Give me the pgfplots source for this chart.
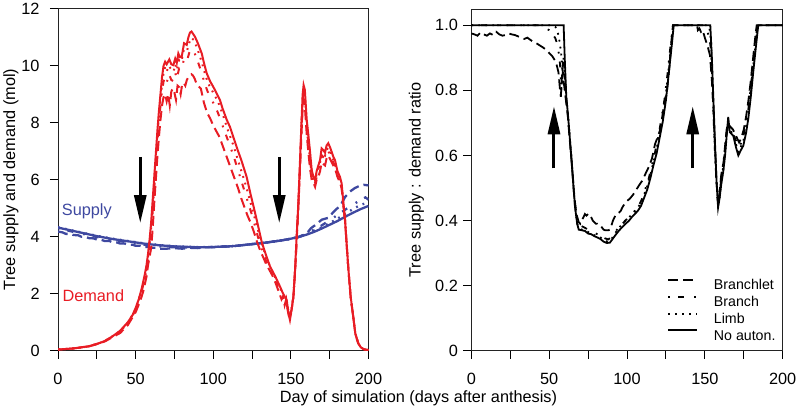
\documentclass[border=0pt]{standalone}
\usepackage{pgfplots}
\pgfplotsset{compat=1.18}
\usetikzlibrary{arrows.meta}
\usepackage{fontspec}
\setmainfont{Liberation Sans}
\newcommand\fs{\fontsize{16.3}{19}\selectfont}
\newcommand\fl{\fontsize{14.2}{17}\selectfont}
\definecolor{dred}{RGB}{232,28,36}
\definecolor{sblue}{RGB}{62,72,160}
\definecolor{frm}{RGB}{35,35,35}
\tikzset{
  pdash/.style={dash pattern=on 10pt off 5pt},
  pdashdot/.style={dash pattern=on 1.8pt off 8pt on 6pt off 10pt},
  pdot/.style={dash pattern=on 1.8pt off 5.2pt},
}
\pgfplotsset{
  common/.style={
    scale only axis, anchor=south west,
    xmin=0, xmax=200,
    xtick={0,50,100,150,200}, minor xtick={25,75,125,175},
    xticklabels={0,50,100,150,200},
    tick align=outside, xtick pos=left, ytick pos=left,
    major tick length=8pt, minor tick length=8pt,
    every tick/.style={line width=1pt, black},
    every minor tick/.style={line width=1pt, black},
    axis line style={line width=1pt, frm},
    ticklabel style={font=\fs},
    xticklabel style={yshift=-10.6pt},
  }
}
\begin{document}
\begin{tikzpicture}
\useasboundingbox (0pt,0pt) rectangle (797pt,408pt);
% ---------------- left panel ----------------
\begin{axis}[common, at={(58pt,57.3pt)}, width=310.5pt, height=342pt,
  ymin=0, ymax=12, ytick={0,2,4,6,8,10,12}, yticklabels={0,2,4,6,8,10,12},
  yticklabel style={xshift=-6.9pt}]
% supply
\addplot[sblue, line width=2.3pt, pdash] coordinates {
(0,4.18) (3,4.15) (5,4.1) (8,4.1) (10,4.06) (13,4.05) (15,4.0) (18,3.99) (20,3.95) (23,3.94) (25,3.9) (28,3.89) (30,3.85) (33,3.85) (35,3.81) (38,3.8) (40,3.76) (43,3.76) (45,3.72) (48,3.72) (50,3.68) (53,3.68) (55,3.64) (58,3.64) (60,3.61) (63,3.61) (65,3.58) (70,3.58) (75,3.6) (80,3.58) (85,3.61) (90,3.6) (95,3.63) (100,3.63) (105,3.65) (110,3.66) (115,3.68) (120,3.71) (125,3.74) (130,3.77) (135,3.8) (140,3.84) (145,3.88) (150,3.93) (155,3.99) (160,4.1) (163,4.3) (166,4.42) (170,4.6) (174,4.66) (178,4.9) (182,5.1) (185,5.4) (188,5.58) (191,5.7) (194,5.78) (197,5.82) (200,5.8)};
\addplot[sblue, line width=2.3pt, pdashdot] coordinates {
(0,4.3) (5,4.23) (10,4.17) (15,4.11) (20,4.05) (25,3.99) (30,3.94) (35,3.89) (40,3.85) (45,3.8) (50,3.76) (55,3.72) (60,3.69) (65,3.66) (70,3.64) (75,3.63) (80,3.62) (85,3.62) (90,3.62) (95,3.63) (100,3.64) (105,3.65) (110,3.66) (115,3.68) (120,3.71) (125,3.74) (130,3.77) (135,3.8) (140,3.84) (145,3.88) (150,3.93) (155,3.99) (160,4.1) (165,4.25) (170,4.4) (175,4.58) (180,4.76) (185,4.95) (190,5.12) (195,5.3) (198,5.38) (200,5.3)};
\addplot[sblue, line width=2.3pt, pdot] coordinates {
(0,4.33) (5,4.27) (10,4.21) (15,4.15) (20,4.09) (25,4.03) (30,3.98) (35,3.93) (40,3.89) (45,3.85) (50,3.81) (55,3.77) (60,3.74) (65,3.71) (70,3.69) (75,3.67) (80,3.66) (85,3.65) (90,3.64) (95,3.64) (100,3.64) (105,3.65) (110,3.66) (115,3.68) (120,3.71) (125,3.74) (130,3.77) (135,3.8) (140,3.84) (145,3.88) (150,3.93) (155,3.99) (160,4.08) (165,4.2) (170,4.33) (175,4.48) (180,4.63) (185,4.8) (190,4.97) (195,5.12) (200,5.2)};
\addplot[sblue, line width=2.3pt] coordinates {
(0,4.32) (5,4.26) (10,4.2) (15,4.14) (20,4.08) (25,4.02) (30,3.97) (35,3.92) (40,3.88) (45,3.84) (50,3.8) (55,3.76) (60,3.73) (65,3.7) (70,3.68) (75,3.66) (80,3.65) (85,3.64) (90,3.63) (95,3.63) (100,3.64) (105,3.65) (110,3.66) (115,3.68) (120,3.71) (125,3.74) (130,3.77) (135,3.8) (140,3.84) (145,3.88) (150,3.93) (155,3.99) (160,4.07) (165,4.17) (170,4.29) (175,4.42) (180,4.55) (185,4.7) (190,4.84) (195,4.97) (200,5.08)};
% demand
\addplot[dred, line width=2pt, pdash] coordinates {
(0,0.04) (10,0.08) (20,0.15) (30,0.32) (40,0.62) (45,0.9) (50,1.35) (53,1.75) (55,2.1) (57,2.6) (58,3.0) (59,3.3) (60,3.6) (61,4.3) (62,5.2) (63,6.0) (64,6.8) (65,7.5) (66,8.1) (67,8.6) (68,8.9) (69,9.0) (70,8.75) (71,9.0) (72,8.6) (73,9.1) (74,9.2) (75,9.05) (76,8.8) (77,9.3) (78,9.25) (79,9.0) (80,9.35) (81,9.4) (82,9.3) (83,9.5) (84,9.6) (85,9.65) (86,9.7) (87,9.65) (88,9.55) (89,9.4) (90,9.3) (92,9.2) (94,8.7) (96,8.35) (98,8.15) (100,7.9) (102,7.7) (104,7.5) (106,7.2) (108,6.9) (110,6.6) (112,6.3) (114,6.0) (116,5.7) (118,5.35) (120,5.05) (122,4.75) (124,4.5) (126,4.2) (128,3.85) (130,3.55) (132,3.3) (134,3.05) (136,2.85) (138,2.65) (140,2.4) (142,2.1) (144,1.8) (145,1.9) (146,1.6) (147,1.8) (148,1.4) (149,1.15) (150.5,1.45) (151.6,1.85) (152.7,2.75) (153.7,3.85) (154.8,5.0) (155.9,6.4) (156.9,7.7) (157.6,8.5) (158.2,8.8) (159,8.6) (160.2,7.6) (161.2,7.0) (162.3,6.4) (163.4,6.0) (164.5,5.9) (165.6,5.75) (166.6,6.0) (167.7,6.1) (168.8,6.3) (169.8,6.6) (170.9,6.55) (172,6.5) (173,6.75) (174.1,6.85) (175.5,6.7) (177.3,6.5) (178.4,6.4) (180,6.1) (181.6,5.9) (182.7,5.7) (183.8,5.1) (184.9,4.55) (186,3.65) (187.1,2.8) (188.5,1.88) (190.2,1.17) (191.5,0.6) (193.4,0.26) (195,0.12) (197,0.05) (200,0.02)};
\addplot[dred, line width=2pt, pdashdot] coordinates {
(0,0.04) (10,0.08) (20,0.15) (30,0.33) (40,0.66) (45,0.95) (50,1.42) (54,2.1) (56,2.55) (57,2.85) (58,3.2) (59,3.6) (60,4.1) (61,4.9) (62,5.7) (63,6.5) (64,7.3) (65,8.0) (66,8.6) (67,9.1) (68,9.45) (69,9.6) (70,9.4) (71.5,9.7) (73,9.5) (74.5,9.45) (75.5,9.75) (76.5,9.55) (78,9.9) (79.5,9.85) (81,10.2) (83,10.15) (84.5,10.45) (86,10.6) (87.5,10.5) (89,10.3) (91,10.0) (93,9.65) (95,9.3) (97,9.0) (99,8.8) (101,8.6) (103,8.35) (105,8.05) (107,7.75) (109,7.45) (111,7.15) (113,6.85) (115,6.5) (117,6.15) (119,5.8) (121,5.45) (123,5.1) (125,4.75) (127,4.35) (129,3.95) (131,3.6) (134,3.15) (137,2.8) (140,2.45) (143,2.1) (145,1.95) (146.5,1.7) (148,1.5) (149,1.2) (150.5,1.5) (151.6,1.88) (152.7,2.8) (153.7,3.9) (154.8,5.05) (155.9,6.5) (156.9,7.9) (157.6,8.8) (158.2,9.1) (159,8.9) (160.2,7.8) (161.2,7.3) (162.3,6.7) (163.4,6.2) (164.5,5.95) (165.6,5.8) (166.6,6.1) (167.7,6.3) (168.8,6.5) (169.8,6.85) (170.9,6.8) (172,6.75) (173,6.95) (174.1,7.0) (175.5,6.85) (177.3,6.6) (178.4,6.5) (180,6.15) (181.6,5.95) (182.7,5.75) (183.8,5.1) (184.9,4.55) (186,3.65) (187.1,2.8) (188.5,1.88) (190.2,1.17) (191.5,0.6) (193.4,0.26) (195,0.12) (197,0.05) (200,0.02)};
\addplot[dred, line width=2pt, pdot] coordinates {
(0,0.04) (10,0.08) (20,0.15) (30,0.33) (40,0.68) (45,0.97) (50,1.45) (54,2.15) (56,2.6) (57,2.9) (58,3.3) (59,3.75) (60,4.3) (61,5.1) (62,5.9) (63,6.7) (64,7.5) (65,8.2) (66,8.8) (67,9.35) (68,9.75) (69,9.95) (70,9.8) (71.5,10.0) (73,9.85) (74.5,9.8) (75.5,10.05) (76.5,9.85) (78,10.2) (79.5,10.15) (81,10.55) (83,10.5) (84.5,10.8) (86,10.98) (87.5,10.9) (89,10.7) (91,10.4) (93,10.05) (95,9.65) (97,9.35) (99,9.15) (101,8.95) (103,8.75) (105,8.45) (107,8.15) (109,7.8) (111,7.5) (113,7.2) (115,6.85) (117,6.5) (119,6.15) (121,5.8) (123,5.4) (125,5.0) (127,4.6) (129,4.2) (131,3.8) (134,3.3) (137,2.9) (140,2.55) (143,2.2) (145,2.0) (147,1.75) (148.3,1.4) (149.3,1.12) (150.5,1.5) (151.6,1.9) (152.7,2.8) (153.7,3.95) (154.8,5.1) (155.9,6.6) (156.9,8.0) (157.6,8.9) (158.2,9.2) (159,9.0) (160.2,8.0) (161.2,7.5) (162.3,6.9) (163.4,6.3) (164.5,6.05) (165.6,5.9) (166.6,6.2) (167.7,6.4) (168.8,6.6) (169.8,6.95) (170.9,6.9) (172,6.85) (173,7.05) (174.1,7.12) (175.5,6.95) (177.3,6.7) (178.4,6.55) (180,6.2) (181.6,6.0) (182.7,5.8) (183.8,5.15) (184.9,4.57) (186,3.68) (187.1,2.82) (188.5,1.89) (190.2,1.18) (191.5,0.6) (193.4,0.26) (195,0.12) (197,0.05) (200,0.02)};
\addplot[dred, line width=2pt] coordinates {
(0,0.04) (10,0.08) (20,0.16) (25,0.23) (30,0.34) (35,0.5) (40,0.7) (45,1.0) (48,1.25) (50,1.5) (52,1.8) (54,2.2) (56,2.7) (57,3.0) (58,3.4) (59,3.9) (60,4.5) (61,5.3) (62,6.1) (63,6.9) (64,7.7) (65,8.4) (66,9.0) (67,9.6) (68,10.0) (69,10.14) (70,10.05) (71.7,10.22) (73,10.05) (74.3,10.02) (75.5,10.25) (76.5,10.1) (77.5,10.43) (78.5,10.3) (79.7,10.32) (81.2,10.79) (82.9,10.73) (84,11.0) (85,11.16) (86,11.2) (87,11.12) (88.2,11.02) (90,10.8) (92.6,10.43) (94,10.1) (95.8,9.73) (98,9.45) (100,9.26) (102,9.05) (104.3,8.8) (106,8.5) (108.7,8.1) (110.8,7.85) (112.9,7.5) (116,7.0) (118,6.7) (121.5,6.1) (124,5.5) (126,5.05) (128,4.59) (131.2,3.82) (134,3.35) (136.6,2.95) (140,2.6) (143,2.25) (145,2.0) (147.3,1.78) (148.5,1.3) (149.4,1.08) (150.5,1.45) (151.6,1.89) (152.7,2.83) (153.7,4.0) (154.8,5.17) (155.9,6.69) (156.9,8.1) (157.6,9.0) (158.2,9.32) (159,9.15) (160.2,8.1) (161.2,7.6) (162.3,7.0) (163.4,6.34) (164.5,6.1) (165.6,5.98) (166.6,6.3) (167.7,6.5) (168.8,6.69) (169.8,7.1) (170.9,7.04) (172,6.95) (173,7.2) (174.1,7.28) (175.5,7.1) (177.3,6.81) (178.4,6.69) (180,6.3) (181.6,6.1) (182.7,5.87) (183.8,5.2) (184.9,4.59) (186,3.7) (187.1,2.83) (188.5,1.9) (190.2,1.19) (191.5,0.6) (193.4,0.26) (195,0.12) (197,0.05) (200,0.02)};
\draw[black, line width=3pt, -{Triangle[width=12pt,length=28pt]}] (axis cs:53,6.8) -- (axis cs:53,4.48);
\draw[black, line width=3pt, -{Triangle[width=12pt,length=28pt]}] (axis cs:142.5,6.8) -- (axis cs:142.5,4.48);
\end{axis}
% ---------------- right panel ----------------
\begin{axis}[common, at={(471.3pt,57.3pt)}, width=311.4pt, height=341.7pt,
  ymin=0, ymax=1.05, ytick={0,0.2,0.4,0.6,0.8,1}, yticklabels={0,0.2,0.4,0.6,0.8,1.0},
  yticklabel style={xshift=-1.9pt},
  legend style={draw=none, fill=none, font=\fl, at={(0.6285,0.2119)}, anchor=north west,
    inner sep=0pt, row sep=4.5pt, nodes={inner sep=1pt, text height=10.3pt, text depth=0pt}},
  legend cell align=left,
  /tikz/every odd column/.append style={column sep=15pt},
  legend image code/.code={\draw[#1, line width=2pt] (0pt,4.6pt) -- (28.7pt,4.6pt);}]
\addplot[black, line width=1.8pt, pdash] coordinates {
(0,0.975) (2,0.972) (4,0.968) (6,0.978) (8,0.972) (10,0.968) (12,0.975) (14,0.97) (16,0.98) (18,0.972) (20,0.968) (22,0.97) (24,0.975) (26,0.972) (28,0.97) (30,0.966) (32,0.962) (34,0.958) (36,0.962) (38,0.955) (40,0.948) (42,0.944) (44,0.938) (46,0.932) (48,0.925) (50,0.915) (52,0.905) (54,0.89) (55,0.875) (56,0.855) (57,0.8) (57.5,0.78) (58,0.82) (58.5,0.87) (59,0.84) (60,0.8) (61,0.76) (62,0.72) (63,0.66) (64.5,0.58) (66,0.48) (67.5,0.42) (69,0.395) (70,0.39) (71,0.4) (72,0.41) (73,0.42) (74,0.415) (75,0.42) (76,0.42) (77,0.41) (78,0.40) (79,0.395) (80,0.39) (81,0.39) (82,0.386) (83,0.385) (84,0.378) (85,0.372) (86,0.37) (87,0.37) (88,0.37) (89,0.372) (90,0.385) (91,0.4) (92,0.41) (93,0.42) (94,0.422) (95,0.425) (96,0.43) (97,0.44) (98,0.448) (99,0.455) (100,0.46) (102,0.468) (104,0.48) (106,0.495) (108,0.51) (110,0.524) (112,0.545) (114,0.565) (116,0.59) (118,0.635) (120,0.66) (121.2,0.678) (122,0.7) (124,0.76) (125.5,0.79) (127,0.86) (128.5,0.95) (129.5,1) (145,1) (145.5,0.985) (146.5,0.99) (147.5,0.98) (148.5,0.985) (149.5,0.97) (150.1,0.96) (151.5,0.94) (153.3,0.908) (154.5,0.83) (155.4,0.754) (156.5,0.63) (157.5,0.52) (158.5,0.45) (159.5,0.49) (160.5,0.54) (162,0.58) (163,0.63) (164,0.68) (165,0.7) (166,0.69) (168,0.68) (170,0.66) (172,0.64) (173.5,0.655) (175,0.68) (176.5,0.72) (178,0.77) (179.5,0.83) (181,0.9) (182.5,0.97) (183.3,1) (200,1)};
\addlegendentry{Branchlet}
\addplot[black, line width=1.8pt, pdashdot] coordinates {
(0,1) (44,1) (46,0.995) (48,0.99) (50,0.985) (52,0.975) (54,0.96) (55,0.945) (56,0.92) (57,0.88) (57.8,0.8) (58.3,0.84) (59,0.9) (59.6,0.86) (60.5,0.8) (61.5,0.75) (63,0.67) (64.5,0.58) (66.6,0.45) (68,0.4) (70,0.385) (72,0.38) (74,0.375) (76,0.37) (78,0.365) (80,0.36) (82,0.356) (84,0.35) (86,0.345) (88,0.342) (90,0.35) (92,0.362) (94,0.375) (96,0.385) (98,0.395) (100,0.405) (102,0.415) (104,0.425) (106,0.435) (108,0.45) (110,0.47) (112,0.5) (114,0.53) (116,0.57) (118,0.61) (120,0.655) (122,0.71) (124,0.77) (126,0.85) (128,0.94) (129.5,1) (150,1) (151,0.99) (152,0.975) (153,0.96) (154,0.92) (155,0.8) (156,0.66) (157.2,0.54) (158.5,0.45) (159.5,0.48) (160.5,0.53) (162,0.57) (163,0.62) (164,0.67) (165,0.7) (166,0.69) (168,0.67) (170,0.645) (172,0.625) (173.5,0.64) (175,0.665) (176.5,0.7) (178,0.745) (179.5,0.81) (181,0.88) (182.5,0.95) (183.7,1) (200,1)};
\addlegendentry{Branch}
\addplot[black, line width=1.8pt, pdot] coordinates {
(0,1) (52,1) (54,0.995) (55,0.985) (56,0.97) (57,0.94) (58,0.9) (58.8,0.85) (59.3,0.9) (60,0.87) (61,0.78) (62,0.73) (63,0.67) (64.5,0.58) (66.6,0.445) (68,0.39) (69,0.38) (71,0.372) (73,0.37) (75,0.365) (77,0.36) (79,0.355) (81,0.352) (83,0.348) (85,0.34) (87,0.336) (89,0.337) (91,0.35) (93,0.365) (95,0.378) (97,0.39) (99,0.4) (101,0.408) (103,0.418) (105,0.428) (107,0.44) (109,0.455) (111,0.48) (113,0.505) (115,0.54) (117,0.58) (119,0.62) (121,0.67) (123,0.72) (125,0.79) (127,0.88) (129,0.97) (129.8,1) (152,1) (153,0.99) (154,0.95) (155,0.82) (156,0.68) (157,0.55) (158.5,0.45) (159.5,0.47) (160.5,0.52) (162,0.56) (163,0.61) (164,0.67) (165,0.71) (166,0.68) (168,0.665) (170,0.635) (171.5,0.61) (173,0.625) (175,0.65) (176.5,0.69) (178,0.73) (179.5,0.8) (181,0.87) (182.5,0.94) (184,1) (200,1)};
\addlegendentry{Limb}
\addplot[black, line width=1.8pt] coordinates {
(0,1) (59.3,1) (60,0.9) (61,0.78) (62,0.73) (63,0.67) (64.5,0.575) (66.6,0.442) (68,0.39) (69,0.372) (71,0.37) (73,0.368) (75,0.36) (77,0.358) (79,0.352) (81,0.348) (83,0.343) (85,0.335) (87,0.331) (89,0.332) (91,0.345) (93,0.358) (95,0.37) (97,0.38) (99,0.39) (101,0.398) (103,0.41) (105,0.42) (107,0.43) (109,0.445) (111,0.47) (113,0.495) (115,0.53) (117,0.57) (119,0.606) (121,0.655) (123,0.705) (125,0.77) (127,0.86) (129,0.95) (130,1) (153.5,1) (154.5,0.9) (155.5,0.77) (156.5,0.64) (157.5,0.52) (158.5,0.44) (159.5,0.47) (160.5,0.51) (161.8,0.55) (163,0.6) (164,0.66) (165,0.718) (166,0.672) (168.3,0.66) (170,0.625) (171.5,0.6) (173,0.615) (174.7,0.63) (176.5,0.67) (177.9,0.713) (179.5,0.78) (181.1,0.857) (182.7,0.93) (184.3,1) (200,1)};
\addlegendentry{No auton.}
\draw[black, line width=3pt, -{Triangle[width=12pt,length=28pt]}] (axis cs:53.1,0.56) -- (axis cs:53.1,0.751);
\draw[black, line width=3pt, -{Triangle[width=12pt,length=28pt]}] (axis cs:142.2,0.56) -- (axis cs:142.2,0.751);
\end{axis}
% ---------------- texts ----------------
\node[anchor=base west, inner sep=0pt, text=sblue, font=\fs] at (61.7pt,192.5pt) {Supply};
\node[anchor=base west, inner sep=0pt, text=dred, font=\fs] at (62.3pt,106.3pt) {Demand};
\node[anchor=base, inner sep=0pt, rotate=90, font=\fs] at (15pt,228.5pt) {Tree supply and demand (mol)};
\node[anchor=base, inner sep=0pt, rotate=90, font=\fs] at (420.5pt,228pt) {Tree supply : demand ratio};
\node[anchor=base, inner sep=0pt, font=\fs] at (418.5pt,6pt) {Day of simulation (days after anthesis)};
\end{tikzpicture}
\end{document}
